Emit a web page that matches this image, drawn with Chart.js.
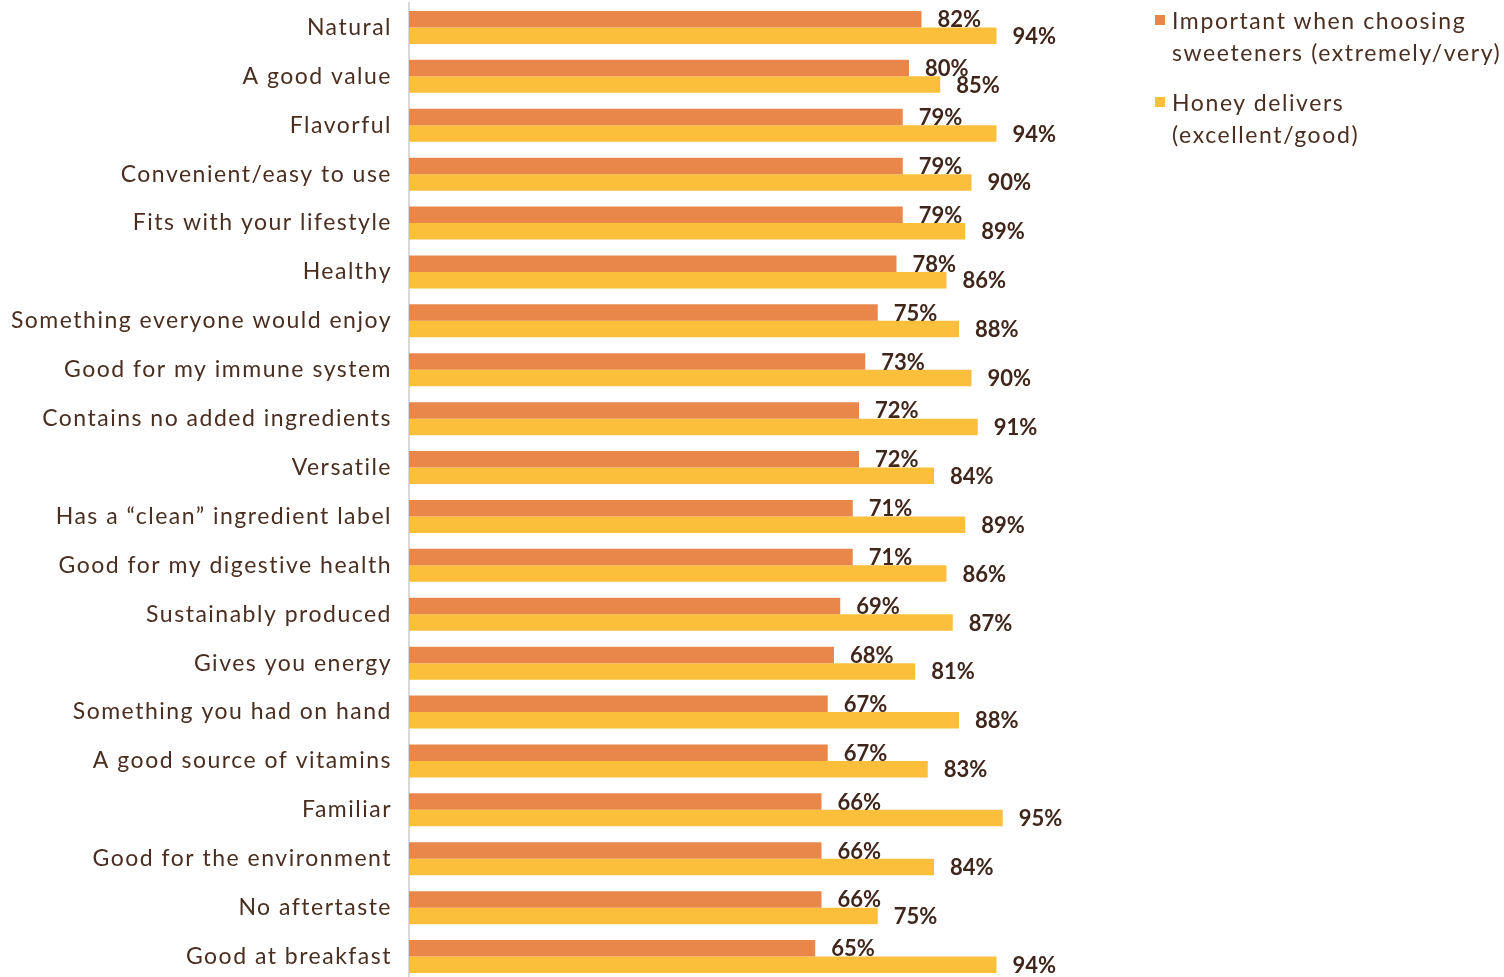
<!DOCTYPE html>
<html>
<head>
<meta charset="utf-8">
<script src="https://cdn.jsdelivr.net/npm/chart.js@4/dist/chart.umd.min.js"></script>
<style>
  html, body { margin: 0; padding: 0; background: #fff; overflow: hidden; }
  #wrap { position: relative; width: 1504px; height: 981px; }
  #legend { position: absolute; left: 1155px; top: 4px; font-family: Lato, sans-serif; font-size: 23px;
            letter-spacing: 1.6px; color: #4a2e20; line-height: 32px; }
  .item { position: relative; padding-left: 17px; margin-bottom: 18px; }
  .box { position: absolute; left: 0; top: 11px; width: 10px; height: 10px; }
</style>
</head>
<body>
<div id="wrap">
  <canvas id="chart" width="1504" height="981"></canvas>
  <div id="legend"></div>
</div>
<script>
const categories = [
  'Natural', 'A good value', 'Flavorful', 'Convenient/easy to use', 'Fits with your lifestyle',
  'Healthy', 'Something everyone would enjoy', 'Good for my immune system',
  'Contains no added ingredients', 'Versatile', 'Has a \u201cclean\u201d ingredient label',
  'Good for my digestive health', 'Sustainably produced', 'Gives you energy',
  'Something you had on hand', 'A good source of vitamins', 'Familiar',
  'Good for the environment', 'No aftertaste', 'Good at breakfast'
];
const important = [82, 80, 79, 79, 79, 78, 75, 73, 72, 72, 71, 71, 69, 68, 67, 67, 66, 66, 66, 65];
const honey = [94, 85, 94, 90, 89, 86, 88, 90, 91, 84, 89, 86, 87, 81, 88, 83, 95, 84, 75, 94];
const seriesNames = [
  ['Important when choosing', 'sweeteners (extremely/very)'],
  ['Honey delivers', '(excellent/good)']
];
const colors = ['#e9874b', '#fcbf3c'];

// spaced-out text for the axis labels
const spacing = {
  id: 'spacing',
  beforeDraw(chart) { chart.ctx.letterSpacing = '1.5px'; }
};

// percentage labels just past each bar end
const valueLabels = {
  id: 'valueLabels',
  afterDatasetsDraw(chart) {
    const ctx = chart.ctx;
    ctx.save();
    ctx.letterSpacing = '0px';
    ctx.font = 'bold 22px Lato, sans-serif';
    ctx.fillStyle = '#40261a';
    ctx.textAlign = 'left';
    ctx.textBaseline = 'middle';
    chart.data.datasets.forEach((ds, i) => {
      chart.getDatasetMeta(i).data.forEach((bar, j) => {
        ctx.fillText(ds.data[j] + '%', bar.x + 16, bar.y + 1);
      });
    });
    ctx.restore();
  }
};

new Chart(document.getElementById('chart'), {
  type: 'bar',
  data: {
    labels: categories,
    datasets: [
      { label: seriesNames[0].join(' '), data: important, backgroundColor: colors[0] },
      { label: seriesNames[1].join(' '), data: honey, backgroundColor: colors[1] }
    ]
  },
  options: {
    indexAxis: 'y',
    responsive: false,
    animation: false,
    categoryPercentage: 0.675,
    barPercentage: 1,
    layout: { padding: { top: 3, right: 470, bottom: 0, left: 0 } },
    plugins: { legend: { display: false }, tooltip: { enabled: false } },
    scales: {
      x: { display: false, min: 0, max: 100 },
      y: {
        afterFit(scale) {
          scale.width = 409;
          // bars run the full height, no room kept for label overhang
          scale.paddingTop = 0;
          scale.paddingBottom = 0;
        },
        grid: { display: false, drawTicks: false },
        border: { display: true, color: '#d9d9d9', width: 2 },
        ticks: { padding: 17, color: '#4a2e20', font: { family: 'Lato', size: 23 } }
      }
    }
  },
  plugins: [spacing, valueLabels]
});

// legend on the right
const legend = document.getElementById('legend');
seriesNames.forEach((lines, i) => {
  const item = document.createElement('div');
  item.className = 'item';
  item.innerHTML = '<span class="box" style="background:' + colors[i] + '"></span>' + lines.join('<br>');
  legend.appendChild(item);
});
</script>
</body>
</html>
